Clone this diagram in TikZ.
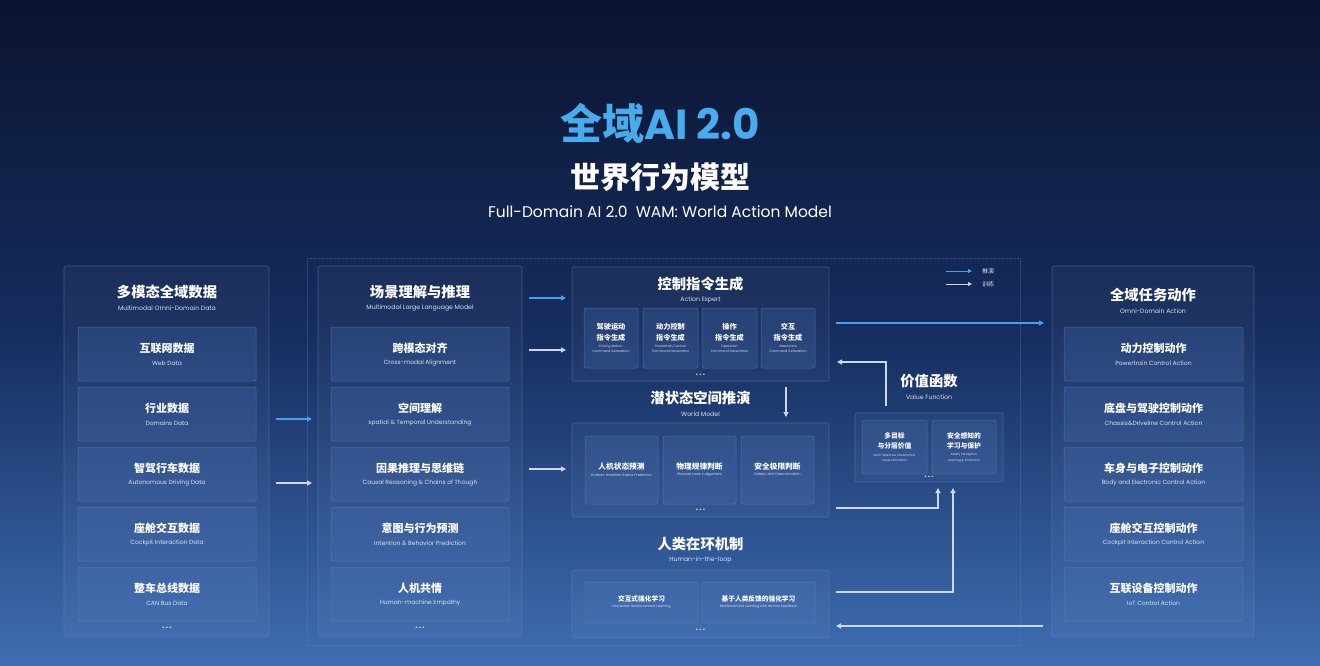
\documentclass[tikz,border=0pt]{standalone}
\usepackage{fontspec}
\setmainfont{Poppins}
\newfontfamily\cjk{Noto Sans CJK SC}
\usetikzlibrary{arrows.meta}
\definecolor{bgtop}{RGB}{11,20,48}
\definecolor{bgmid}{RGB}{22,45,95}
\definecolor{bgbot}{RGB}{62,110,178}
\definecolor{paneldraw}{RGB}{100,140,205}
\definecolor{subfill}{RGB}{75,115,185}
\definecolor{titleblue}{RGB}{72,172,236}
\definecolor{arrblue}{RGB}{70,160,235}
\definecolor{arrwhite}{RGB}{205,215,235}
\definecolor{entc}{RGB}{215,225,240}
\tikzset{
  panel/.style={draw=paneldraw, draw opacity=0.45, fill=white, fill opacity=0.035, rounded corners=2pt, line width=0.6pt, inner sep=0},
  subbox/.style={draw=paneldraw, draw opacity=0.55, fill=subfill, fill opacity=0.25, rounded corners=2pt, line width=0.5pt, inner sep=0},
  cntext/.style={text=white, inner sep=0, align=center},
  entext/.style={text=entc, inner sep=0, align=center},
  ptitle/.style={cntext, font=\cjk\bfseries\fontsize{14.3}{16}\selectfont},
  psub/.style={entext, font=\fontsize{6.2}{7}\selectfont},
  dots/.style={text=entc, inner sep=0, font=\bfseries\fontsize{8}{8}\selectfont},
  cnA/.style={cntext, font=\cjk\bfseries\fontsize{11}{13}\selectfont, yshift=6pt},
  enA/.style={entext, font=\fontsize{6}{7}\selectfont, yshift=-9pt},
  cnB/.style={cntext, font=\cjk\bfseries\fontsize{7.2}{11}\selectfont, yshift=5.5pt},
  enB/.style={entext, font=\fontsize{3.3}{5.5}\selectfont, yshift=-11pt},
  cnC/.style={cntext, font=\cjk\bfseries\fontsize{7.7}{9}\selectfont, yshift=3pt},
  enC/.style={entext, font=\fontsize{3.5}{4}\selectfont, yshift=-5pt},
  cnD/.style={cntext, font=\cjk\bfseries\fontsize{6.7}{8}\selectfont, yshift=3.5pt},
  enD/.style={entext, font=\fontsize{3.3}{4}\selectfont, yshift=-4.5pt},
  cnE/.style={cntext, font=\cjk\bfseries\fontsize{6.8}{10}\selectfont, yshift=6pt},
  enE/.style={entext, font=\fontsize{3}{5.5}\selectfont, yshift=-11pt},
  bluearr/.style={draw=arrblue, line width=1.4pt, -{Triangle[length=5pt,width=5pt]}},
  whitearr/.style={draw=arrwhite, line width=1.2pt, -{Triangle[length=5pt,width=5pt]}},
}
\newcommand\nbox[8]{%
  \node[subbox, minimum width=#4pt, minimum height=#5pt] (#1) at (#2,#3) {};
  \node[cn#8] (#1-cn) at (#1.center) {#6};
  \node[en#8] (#1-en) at (#1.center) {#7};
}
\begin{document}
\begin{tikzpicture}[x=1pt,y=-1pt]
\useasboundingbox (0,0) rectangle (1320,666);
\shade[top color=bgtop, bottom color=bgbot, middle color=bgmid] (0,0) rectangle (1320,666);

% titles
\node[inner sep=0, text=titleblue] (t1) at (660,123) {{\cjk\bfseries\fontsize{42}{44}\selectfont 全域}{\bfseries\fontsize{42}{44}\selectfont AI 2.0}};
\node[inner sep=0, text=white, font=\cjk\bfseries\fontsize{30}{32}\selectfont] (t2) at (660,177) {世界行为模型};
\node[inner sep=0, text=white, font=\fontsize{15.5}{17}\selectfont] (t3) at (660,212) {Full-Domain AI 2.0\ \ WAM: World Action Model};

% big dotted frame
\draw[paneldraw, draw opacity=0.4, densely dotted, line width=0.6pt] (307,258) rectangle (1020,645);

% ---------- left column
\node[panel, minimum width=205pt, minimum height=371pt] (leftp) at (166.5,451.5) {};
\node[ptitle] (leftp-t) at (167,292) {多模态全域数据};
\node[psub] (leftp-s) at (167,308) {Multimodal Omni-Domain Data};
\nbox{l1}{167}{354}{178}{54}{互联网数据}{Web Data}{A}
\nbox{l2}{167}{414}{178}{54}{行业数据}{Domains Data}{A}
\nbox{l3}{167}{474}{178}{54}{智驾行车数据}{Autonomous Driving Data}{A}
\nbox{l4}{167}{534}{178}{54}{座舱交互数据}{Cockpit Interaction Data}{A}
\nbox{l5}{167}{594}{178}{54}{整车总线数据}{CAN Bus Data}{A}
\node[dots] (leftp-d) at (167,628) {.\,.\,.};

% ---------- middle column
\node[panel, minimum width=204pt, minimum height=371pt] (midp) at (420,451.5) {};
\node[ptitle] (midp-t) at (420,292) {场景理解与推理};
\node[psub] (midp-s) at (420,308) {Multimodal Large Language Model};
\nbox{m1}{420}{354}{178}{54}{跨模态对齐}{Cross-modal Alignment}{A}
\nbox{m2}{420}{414}{178}{54}{空间理解}{spatial \& Temporal Understanding}{A}
\nbox{m3}{420}{474}{178}{54}{因果推理与思维链}{Causal Reasoning \& Chains of Though}{A}
\nbox{m4}{420}{534}{178}{54}{意图与行为预测}{Intention \& Behavior Prediction}{A}
\nbox{m5}{420}{594}{178}{54}{人机共情}{Human-machine Empathy}{A}
\node[dots] (midp-d) at (420,628) {.\,.\,.};

% ---------- action expert
\node[panel, minimum width=257pt, minimum height=114pt] (act) at (700.5,324) {};
\node[ptitle] (act-t) at (700.5,284) {控制指令生成};
\node[psub] (act-s) at (700.5,300) {Action Expert};
\nbox{a1}{611}{338}{54}{60}{驾驶运动\\指令生成}{Driving Motion\\Command Generation}{B}
\nbox{a2}{670.5}{338}{55}{60}{动力控制\\指令生成}{Powertrain Control\\Command Generation}{B}
\nbox{a3}{729.5}{338}{55}{60}{操作\\指令生成}{Operation\\Command Generation}{B}
\nbox{a4}{788}{338}{54}{60}{交互\\指令生成}{Interaction\\Command Generation}{B}
\node[dots] (act-d) at (700.5,375) {.\,.\,.};

% ---------- world model
\node[ptitle] (wm-t) at (700.5,398) {潜状态空间推演};
\node[psub] (wm-s) at (700.5,414) {World Model};
\node[panel, minimum width=257pt, minimum height=94pt] (wm) at (700.5,470) {};
\nbox{w1}{621.5}{470}{73}{68}{人机状态预测}{Human-machine Status Prediction}{C}
\nbox{w2}{699.5}{470}{73}{68}{物理规律判断}{Physical Laws Judgement}{C}
\nbox{w3}{777.5}{470}{73}{68}{安全极限判断}{Safety Limit Determination}{C}
\node[dots] (wm-d) at (700.5,510) {.\,.\,.};

% ---------- human in the loop
\node[ptitle] (hl-t) at (700.5,544) {人类在环机制};
\node[psub] (hl-s) at (700.5,560) {Human-in-the-loop};
\node[panel, minimum width=257pt, minimum height=68pt] (hl) at (700.5,604) {};
\nbox{h1}{641.5}{602.5}{113}{41}{交互式强化学习}{Interaction Reinforcement Learning}{D}
\nbox{h2}{758.5}{602.5}{113}{41}{基于人类反馈的强化学习}{Reinforcement Learning with Human Feedback}{D}
\node[dots] (hl-d) at (700.5,630) {.\,.\,.};

% ---------- value function
\node[ptitle] (vf-t) at (929,381) {价值函数};
\node[psub] (vf-s) at (929,397) {Value Function};
\node[panel, minimum width=148pt, minimum height=69pt] (vf) at (929,447.5) {};
\nbox{v1}{894.5}{447}{65}{54}{多目标\\与分层价值}{Multi-objective, Hierarchical\\Value Estimation}{E}
\nbox{v2}{964}{447}{64}{54}{安全感知的\\学习与保护}{Safety Perception\\Learning \& Protection}{E}
\node[dots] (vf-d) at (929,477) {.\,.\,.};

% ---------- right column
\node[panel, minimum width=202pt, minimum height=371pt] (rightp) at (1153,451.5) {};
\node[ptitle] (rightp-t) at (1153,295) {全域任务动作};
\node[psub] (rightp-s) at (1153,311) {Omni-Domain Action};
\nbox{r1}{1153.5}{354}{179}{54}{动力控制动作}{Powertrain Control Action}{A}
\nbox{r2}{1153.5}{414}{179}{54}{底盘与驾驶控制动作}{Chassis\&Driveline Control Action}{A}
\nbox{r3}{1153.5}{474}{179}{54}{车身与电子控制动作}{Body and Electronic Control Action}{A}
\nbox{r4}{1153.5}{534}{179}{54}{座舱交互控制动作}{Cockpit Interaction Control Action}{A}
\nbox{r5}{1153.5}{594}{179}{54}{互联设备控制动作}{IoT Control Action}{A}

% ---------- legend
\coordinate (lg1a) at (946,271); \coordinate (lg1b) at (972,271);
\coordinate (lg2a) at (946,284); \coordinate (lg2b) at (972,284);
\draw[bluearr, line width=1pt, -{Triangle[length=4pt,width=4pt]}] (lg1a) -- (lg1b);
\draw[whitearr, line width=0.9pt, -{Triangle[length=4pt,width=4pt]}] (lg2a) -- (lg2b);
\node[text=entc, inner sep=0, font=\cjk\fontsize{6}{7}\selectfont, anchor=west] (lg1t) at (982,271) {推演};
\node[text=entc, inner sep=0, font=\cjk\fontsize{6}{7}\selectfont, anchor=west] (lg2t) at (982,284) {训练};

% ---------- connectors
\coordinate (c1a) at (276,419); \coordinate (c1b) at (312,419);
\coordinate (c2a) at (276,483); \coordinate (c2b) at (312,483);
\draw[bluearr] (c1a) -- (c1b);
\draw[whitearr] (c2a) -- (c2b);

\coordinate (c3a) at (529,298); \coordinate (c3b) at (566,298);
\coordinate (c4a) at (529,350); \coordinate (c4b) at (566,350);
\coordinate (c5a) at (529,469); \coordinate (c5b) at (566,469);
\draw[bluearr] (c3a) -- (c3b);
\draw[whitearr] (c4a) -- (c4b);
\draw[whitearr] (c5a) -- (c5b);

% action -> right column
\coordinate (c6a) at (836,323); \coordinate (c6b) at (1044,323);
\draw[bluearr] (c6a) -- (c6b);

% action -> world model (down)
\coordinate (c7a) at (786,387); \coordinate (c7b) at (786,417);
\draw[whitearr] (c7a) -- (c7b);

% value -> action
\coordinate (c8a) at (886,406); \coordinate (c8b) at (837,362);
\draw[whitearr] (c8a) |- (c8b);

% world model -> value
\coordinate (c9a) at (836,508); \coordinate (c9b) at (938,488);
\draw[whitearr] (c9a) -| (c9b);

% human loop -> value
\coordinate (c10a) at (836,592); \coordinate (c10b) at (953,488);
\draw[whitearr] (c10a) -| (c10b);

% right column -> human loop
\coordinate (c11a) at (1043,626); \coordinate (c11b) at (836,626);
\draw[whitearr] (c11a) -- (c11b);
\end{tikzpicture}
\end{document}
